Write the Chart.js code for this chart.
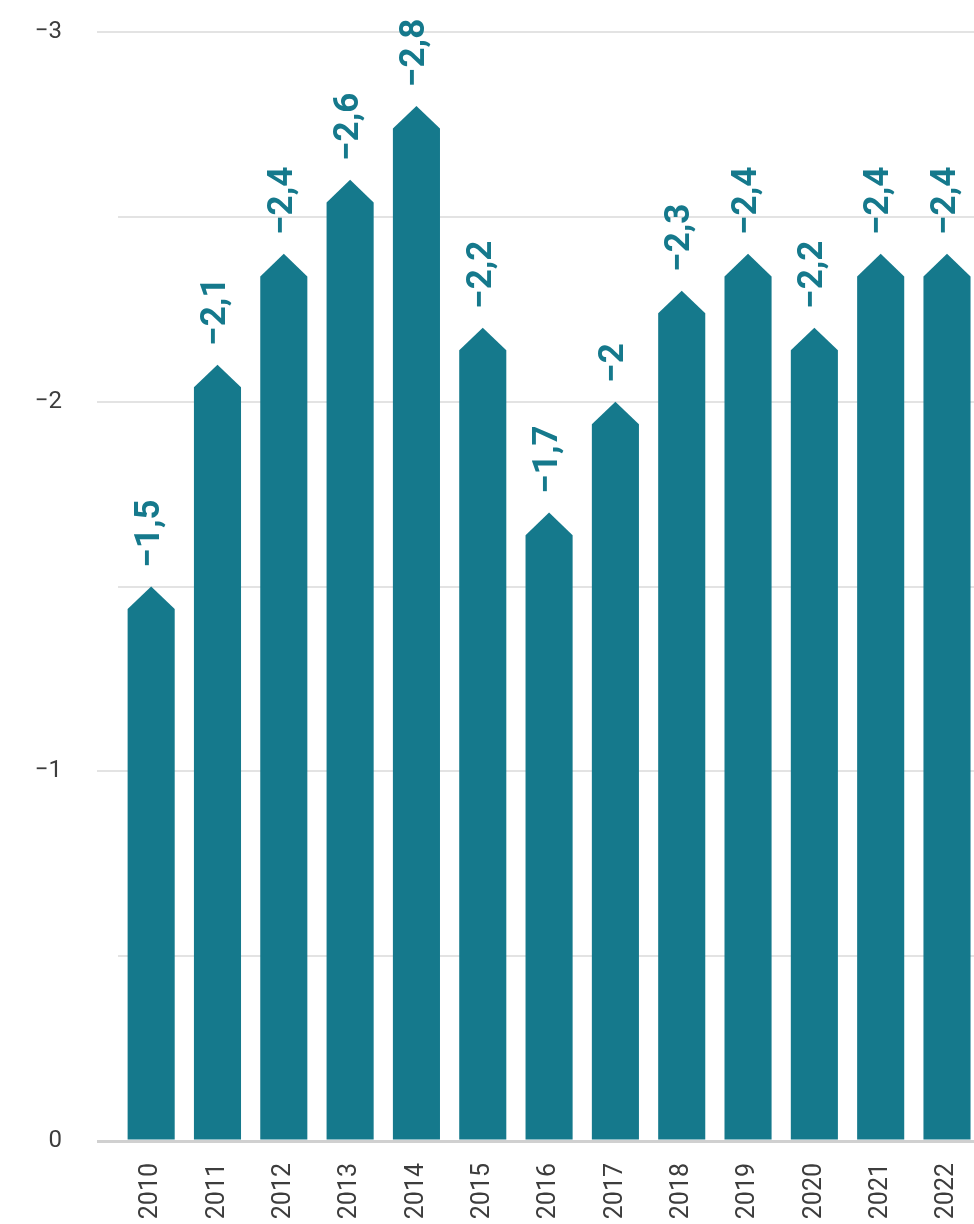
<!DOCTYPE html>
<html>
<head>
<meta charset="utf-8">
<script src="https://cdn.jsdelivr.net/npm/chart.js@4"></script>
<style>
  html, body { margin: 0; padding: 0; background: #fff; overflow: hidden; }
  #wrap { width: 999px; height: 1224px; }
</style>
</head>
<body>
<div id="wrap"><canvas id="balanceChart"></canvas></div>
<script>
// Yearly values, drawn on an inverted axis (0 at the bottom, -3 at the top)
const years = ['2010', '2011', '2012', '2013', '2014', '2015', '2016',
               '2017', '2018', '2019', '2020', '2021', '2022'];
const balance = [-1.5, -2.1, -2.4, -2.6, -2.8, -2.2, -1.7, -2, -2.3, -2.4, -2.2, -2.4, -2.4];
const yMin = -3;
const yMax = 0;
const yStep = 0.5;

const TEAL = '#15798c';

// format -2.4 as "−2,4"
function fmt(v) {
    return String(v).replace('.', ',').replace('-', '\u2212');
}

// Bars with a pointed (arrow) top, plus rotated value labels
const arrowBars = {
    id: 'arrowBars',
    afterDatasetsDraw(chart) {
        const ctx = chart.ctx;
        const meta = chart.getDatasetMeta(0);
        ctx.save();
        meta.data.forEach((bar, i) => {
            const half = bar.width / 2;
            const tip = bar.y;
            const shoulder = tip + half * 0.96;
            ctx.fillStyle = TEAL;
            ctx.beginPath();
            ctx.moveTo(bar.x - half, bar.base);
            ctx.lineTo(bar.x - half, shoulder);
            ctx.lineTo(bar.x, tip);
            ctx.lineTo(bar.x + half, shoulder);
            ctx.lineTo(bar.x + half, bar.base);
            ctx.closePath();
            ctx.fill();

            ctx.save();
            ctx.translate(bar.x - 1, tip - 19);
            ctx.rotate(-Math.PI / 2);
            ctx.font = 'bold 35px Roboto, "Open Sans", sans-serif';
            ctx.textAlign = 'left';
            ctx.textBaseline = 'middle';
            ctx.fillText(fmt(balance[i]), 0, 0);
            ctx.restore();
        });
        ctx.restore();
    }
};

const ctx = document.getElementById('balanceChart').getContext('2d');

new Chart(ctx, {
    type: 'bar',
    data: {
        labels: years,
        datasets: [{
            data: balance,
            backgroundColor: 'transparent', // drawn by arrowBars
            borderWidth: 0,
            categoryPercentage: 1,
            barPercentage: 0.71
        }]
    },
    options: {
        responsive: true,
        maintainAspectRatio: false,
        animation: false,
        layout: { padding: { top: 32, right: 0, bottom: 0, left: 0 } },
        plugins: {
            legend: { display: false },
            tooltip: { enabled: false }
        },
        scales: {
            x: {
                grid: { display: false, drawTicks: false },
                border: { display: false },
                ticks: {
                    minRotation: 90,
                    maxRotation: 90,
                    padding: 22,
                    color: '#3d3d3d',
                    font: { family: 'Roboto, "Liberation Sans", sans-serif', size: 25 }
                },
                afterFit(scale) { scale.height = 83; }
            },
            y: {
                reverse: true,
                min: yMin,
                max: yMax,
                border: { display: false },
                grid: {
                    color: (c) => c.tick && c.tick.value === 0 ? '#d0d0d0' : '#e3e3e3',
                    lineWidth: (c) => c.tick && c.tick.value === 0 ? 3 : 2,
                    tickColor: (c) => c.tick && Number.isInteger(c.tick.value)
                        ? (c.tick.value === 0 ? '#d0d0d0' : '#e3e3e3') : 'rgba(0,0,0,0)',
                    tickLength: 21
                },
                ticks: {
                    stepSize: yStep,
                    padding: 35,
                    color: '#3d3d3d',
                    font: { family: 'Roboto, "Liberation Sans", sans-serif', size: 24 },
                    callback: (v) => Number.isInteger(v) ? (v === 0 ? '0' : fmt(v)) : ''
                },
                afterFit(scale) {
                    scale.width = 118;
                    // the wide label gap shouldn't push the plot area down
                    scale.paddingTop = 0;
                    scale.paddingBottom = 0;
                }
            }
        }
    },
    plugins: [arrowBars]
});
</script>
</body>
</html>
